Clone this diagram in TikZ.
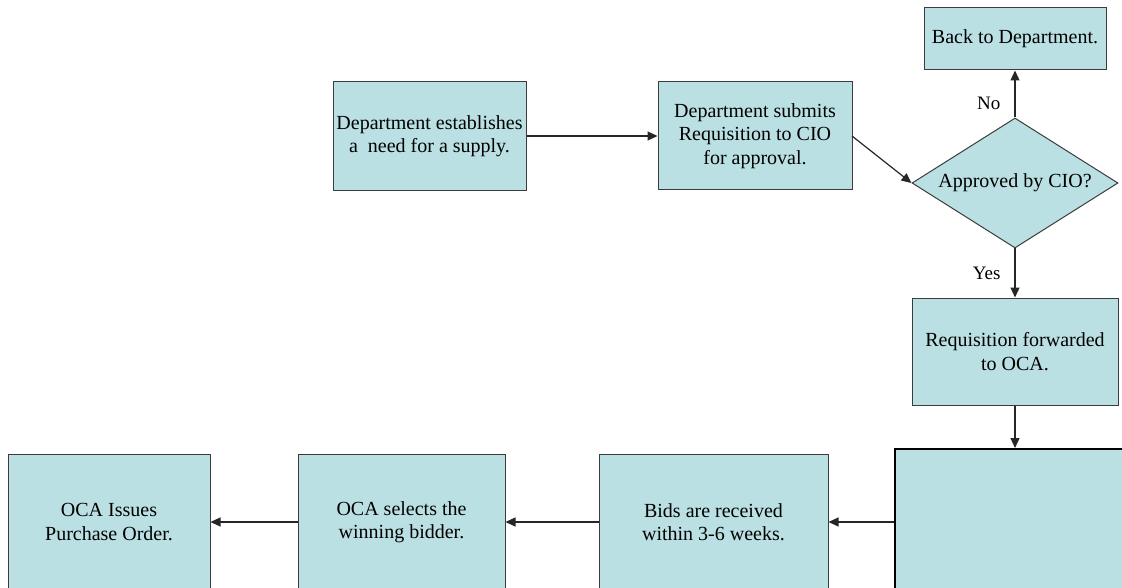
\documentclass[tikz,border=0pt]{standalone}
\usepackage{fontspec}
\setmainfont{Liberation Serif}
\usetikzlibrary{shapes.geometric,arrows.meta}
\definecolor{boxfill}{RGB}{187,224,227}
\definecolor{boxline}{RGB}{60,60,60}
\tikzset{
  x=1pt, y=-1pt,
  proc/.style={draw=boxline, fill=boxfill, line width=1pt, rectangle, inner sep=0pt, align=center,
    font=\fontsize{20}{23.5}\selectfont},
  decision/.style={draw=boxline, fill=boxfill, line width=1pt, diamond, shape aspect=1.6, inner sep=0pt, align=center,
    font=\fontsize{20}{23.5}\selectfont},
  flow/.style={draw=black!85, line width=1.2pt, -{Triangle[length=10pt,width=9pt]}},
  lbl/.style={font=\fontsize{19}{23}\selectfont, inner sep=0pt}
}
\begin{document}
\begin{tikzpicture}
\useasboundingbox (0,0) rectangle (1122,588);
\clip (0,0) rectangle (1122,588);
\node[proc, minimum width=193pt, minimum height=109pt] (need) at (429.5,136) {Department establishes\\ a\ \ need for a supply.};
\node[proc, minimum width=194pt, minimum height=108pt] (submit) at (755,136) {Department submits\\ Requisition to CIO\\ for approval.};
\node[proc, minimum width=182pt, minimum height=62pt] (back) at (1015,39) {Back to Department.};
\node[decision, minimum width=206pt, minimum height=130pt] (cio) at (1015,183) {Approved by CIO?};
\node[proc, minimum width=206pt, minimum height=107pt] (fwd) at (1015,351.5) {Requisition forwarded\\ to OCA.};
\node[proc, draw=black, line width=2pt, minimum width=240pt, minimum height=146pt] (big) at (1015,522) {};
\node[proc, minimum width=229pt, minimum height=136pt] (bids) at (713.5,522) {Bids are received\\ within 3-6 weeks.};
\node[proc, minimum width=207pt, minimum height=136pt] (select) at (401.5,522) {OCA selects the\\ winning bidder.};
\node[proc, minimum width=202pt, minimum height=136pt] (issue) at (109,522) {OCA Issues\\ Purchase Order.};
\coordinate (submitout) at (852,136);
\draw[flow] (need.east) -- (submit.west);
\draw[flow] (submitout) -- (cio.west);
\draw[flow] (cio.north) -- node[lbl, left=14pt, pos=0.3] (no) {No} (back.south);
\draw[flow] (cio.south) -- node[lbl, left=14pt, pos=0.5] (yes) {Yes} (fwd.north);
\draw[flow] (fwd.south) -- (big.north);
\draw[flow] (big.west) -- (bids.east);
\draw[flow] (bids.west) -- (select.east);
\draw[flow] (select.west) -- (issue.east);
\end{tikzpicture}
\end{document}
